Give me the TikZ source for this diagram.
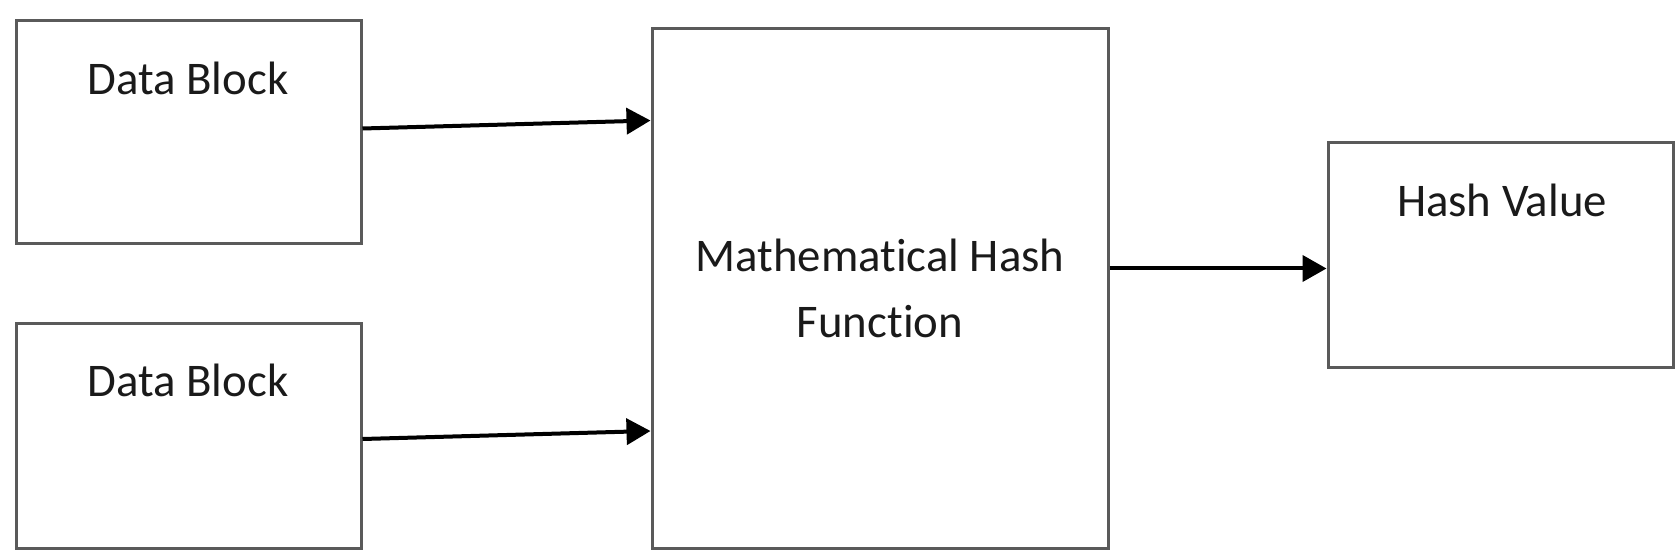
\documentclass[tikz,border=0pt]{standalone}
\usepackage{fontspec}
\setmainfont{Carlito}[Ligatures=NoCommon]
\usepackage{xcolor}
\usepackage{tikz}
\usetikzlibrary{positioning,arrows.meta}
\definecolor{edge}{HTML}{5A5A5A}
\definecolor{ink}{HTML}{1A1A1A}
\tikzset{
  blk/.style={draw=edge,line width=1.5pt,fill=white,inner sep=0pt},
  lbl/.style={font=\fontsize{23.4}{33}\selectfont,text=ink,align=center,inner sep=1pt},
  arr/.style={-{Triangle[length=12pt,width=13pt]},line width=2pt,black},
}

\begin{document}
\begin{tikzpicture}[x=0.5pt,y=-0.5pt]
\useasboundingbox (0,0) rectangle (1679,555);
\node[blk,minimum width=172.5pt,minimum height=111.5pt] (d1) at (188.5,132.5) {};
\node[blk,minimum width=172.5pt,minimum height=112pt] (d2) at (188.5,436) {};
\node[blk,lbl,minimum width=228pt,minimum height=259.5pt] (mhf) at (880,288.5) {Mathematical Hash\\Function};
\node[blk,minimum width=172.5pt,minimum height=112pt] (hv) at (1500.5,255) {};
\node[lbl] (d1t) at (188,78) {Data Block};
\node[lbl] (d2t) at (188,380) {Data Block};
\node[lbl] (hvt) at (1502,200) {Hash Value};
% inputs into the hash, output to the value
\draw[arr] ([yshift=2pt]d1.east) -- ([yshift=6pt]d1.east -| mhf.west);
\draw[arr] ([yshift=-1.5pt]d2.east) -- ([yshift=2.5pt]d2.east -| mhf.west);
\draw[arr] ([yshift=10pt]mhf.east) -- ([yshift=10pt]mhf.east -| hv.west);
\end{tikzpicture}
\end{document}
